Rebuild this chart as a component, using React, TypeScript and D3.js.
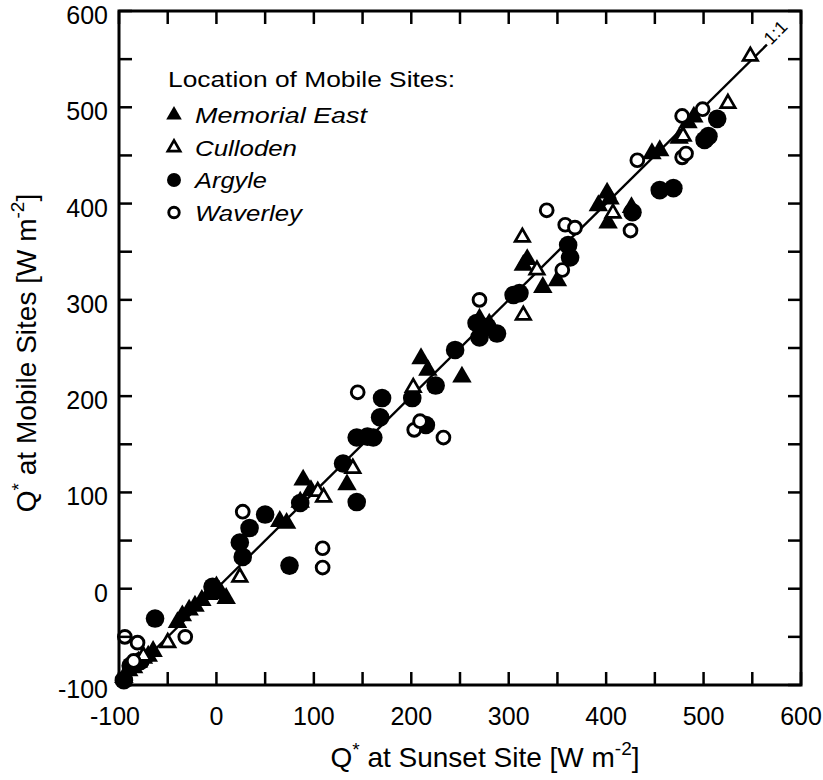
import React from "react";
import * as d3 from "d3";

const xTicks = [-100, 0, 100, 200, 300, 400, 500, 600];
const yTicks = [-100, 0, 100, 200, 300, 400, 500, 600];
const minorTicks = [-50, 50, 150, 250, 350, 450, 550];

const memorialEast: [number, number][] = [
  [-95, -92], [-90, -85], [-85, -82], [-80, -76], [-75, -72], [-70, -70], [-65, -65],
  [-40, -35], [-35, -28], [-28, -22], [-22, -18], [-15, -12], [-8, -6], [0, 2], [5, -5], [10, -10],
  [65, 70], [72, 68], [89, 113], [86, 90], [97, 102], [134, 108],
  [210, 239], [217, 227], [252, 220], [270, 280], [280, 275],
  [315, 336], [319, 342], [335, 313], [350, 320],
  [392, 398], [401, 411], [404, 405], [402, 380], [426, 396],
  [447, 452], [455, 455], [475, 468], [484, 484], [490, 490],
];

const culloden: [number, number][] = [
  [-75, -70], [-50, -56], [24, 12], [104, 101], [110, 95], [140, 125], [202, 209],
  [314, 365], [315, 284], [329, 331], [407, 390], [479, 470], [525, 504], [548, 553],
];

const argyle: [number, number][] = [
  [-95, -95], [-88, -80], [-78, -75], [-63, -31], [-4, 2], [27, 33], [24, 48], [34, 63],
  [50, 77], [75, 24], [86, 89], [130, 130], [144, 157], [161, 157], [168, 178], [170, 198],
  [144, 90], [155, 158], [201, 198], [225, 211], [215, 170], [245, 248], [267, 276],
  [278, 272], [288, 265], [270, 261], [305, 305], [311, 307], [361, 357], [363, 344],
  [427, 391], [455, 414], [469, 416], [501, 466], [505, 470], [514, 488],
];

const waverley: [number, number][] = [
  [-94, -50], [-81, -56], [-85, -75], [-32, -50], [27, 80], [109, 42], [109, 22],
  [145, 204], [203, 165], [209, 174], [233, 157], [270, 300], [339, 393], [355, 331],
  [358, 378], [368, 375], [425, 372], [432, 445], [478, 448], [482, 452], [478, 491], [499, 498],
];

const legendTitle = "Location of Mobile Sites:";
const legendItems = ["Memorial East", "Culloden", "Argyle", "Waverley"];
const legendWidths = [172, 102, 72, 107];

const W = 823;
const H = 780;
const left = 119, right = 801, top = 11, bottom = 685;
const font = "'Liberation Sans', Arial, Helvetica, sans-serif";

export default function App() {
  const x = d3.scaleLinear().domain([-100, 600]).range([left, right]);
  const y = d3.scaleLinear().domain([-100, 600]).range([bottom, top]);
  const tri = (side: number) => d3.symbol().type(d3.symbolTriangle).size((side * side * Math.sqrt(3)) / 4)()!;
  const lineEnd = 565;
  const tickLen = 13;
  const allTicks = [...xTicks, ...minorTicks];

  const marker = (kind: number, key: string, cx: number, cy: number, scale = 1) => {
    if (kind === 0)
      return <path key={key} d={tri(19.5 * scale)} transform={`translate(${cx},${cy})`} fill="#000" />;
    if (kind === 1)
      return <path key={key} d={tri(14.5 * scale)} transform={`translate(${cx},${cy})`} fill="#fff" stroke="#000" strokeWidth={2.7} />;
    if (kind === 2) return <circle key={key} cx={cx} cy={cy} r={9.3 * scale} fill="#000" />;
    return <circle key={key} cx={cx} cy={cy} r={6.4 * scale} fill="#fff" stroke="#000" strokeWidth={2.9} />;
  };

  return (
    <svg width={W} height={H} style={{ position: "absolute", left: 0, top: 0, background: "#fff" }}>
      <rect x={0} y={0} width={W} height={H} fill="#fff" />
      {/* 1:1 line */}
      <line x1={x(-100)} y1={y(-100)} x2={x(lineEnd)} y2={y(lineEnd)} stroke="#000" strokeWidth={2.4} />
      <text
        transform={`translate(${x(lineEnd) + 4},${y(lineEnd) + 1}) rotate(-45)`}
        fontFamily={font}
        fontSize={18}
        fill="#000"
      >
        1:1
      </text>
      {/* data */}
      <g>
        {memorialEast.map((d, i) => marker(0, "me" + i, x(d[0]), y(d[1])))}
        {argyle.map((d, i) => marker(2, "ar" + i, x(d[0]), y(d[1])))}
        {culloden.map((d, i) => marker(1, "cu" + i, x(d[0]), y(d[1])))}
        {waverley.map((d, i) => marker(3, "wa" + i, x(d[0]), y(d[1])))}
      </g>
      {/* frame */}
      <rect x={left} y={top} width={right - left} height={bottom - top} fill="none" stroke="#000" strokeWidth={3} />
      {/* ticks */}
      {allTicks.map((t) => (
        <g key={"t" + t} stroke="#000" strokeWidth={2.5}>
          <line x1={x(t)} x2={x(t)} y1={bottom} y2={bottom - tickLen} />
          <line x1={x(t)} x2={x(t)} y1={top} y2={top + tickLen} />
          <line y1={y(t)} y2={y(t)} x1={left} x2={left + tickLen} />
          <line y1={y(t)} y2={y(t)} x1={right} x2={right - tickLen} />
        </g>
      ))}
      {/* tick labels */}
      {xTicks.map((t) => (
        <text key={"xl" + t} x={x(t) - (t < 0 ? 4 : 0)} y={725} textAnchor="middle" fontFamily={font} fontSize={25} fill="#000">
          {t}
        </text>
      ))}
      {yTicks.map((t) => (
        <text key={"yl" + t} x={108} y={y(t) + 13} textAnchor="end" fontFamily={font} fontSize={25} fill="#000">
          {t}
        </text>
      ))}
      {/* axis titles */}
      <text x={485} y={767} textAnchor="middle" fontFamily={font} fontSize={28} fill="#000">
        Q<tspan dy={-11} fontSize={19}>*</tspan>
        <tspan dy={11}> at Sunset Site [W m</tspan>
        <tspan dy={-12} fontSize={19}>-2</tspan>
        <tspan dy={12}>]</tspan>
      </text>
      <text
        transform={`translate(36,${(top + bottom) / 2 + 5}) rotate(-90)`}
        textAnchor="middle"
        fontFamily={font}
        fontSize={28}
        fill="#000"
      >
        Q<tspan dy={-11} fontSize={19}>*</tspan>
        <tspan dy={11}> at Mobile Sites [W m</tspan>
        <tspan dy={-12} fontSize={19}>-2</tspan>
        <tspan dy={12}>]</tspan>
      </text>
      {/* legend */}
      <text x={168} y={87} fontFamily={font} fontSize={22} fill="#000" textLength={287} lengthAdjust="spacingAndGlyphs">
        {legendTitle}
      </text>
      {legendItems.map((name, i) => {
        const by = 123 + i * 32.5;
        return (
          <g key={name}>
            {marker(i, "lg" + i, 174, by - 8, i === 0 ? 0.8 : i === 1 ? 0.85 : i === 2 ? 0.75 : 0.82)}
            <text
              x={195}
              y={by}
              fontFamily={font}
              fontSize={22}
              fontStyle="italic"
              fill="#000"
              textLength={legendWidths[i]}
              lengthAdjust="spacingAndGlyphs"
            >
              {name}
            </text>
          </g>
        );
      })}
    </svg>
  );
}
